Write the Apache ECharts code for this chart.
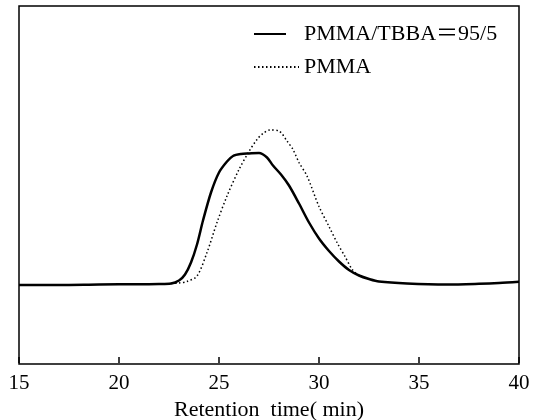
<!DOCTYPE html>
<html>
<head>
<meta charset="utf-8">
<script src="https://cdn.jsdelivr.net/npm/echarts@6/dist/echarts.min.js"></script>
<style>
html,body{margin:0;padding:0;background:#fff;}
#main{width:537px;height:420px;}
</style>
</head>
<body>
<div id="main"></div>
<script>
/* retention time (min) and detector signal (arbitrary units) */
var solidName = 'PMMA/TBBA＝95/5';
var dotName = 'PMMA';
var solidTime = [15, 17, 19, 21, 22, 22.6, 23.0, 23.3, 23.6, 23.9, 24.2, 24.6, 25.0, 25.4, 25.7, 26.1, 26.5, 27.0, 27.4, 27.7, 28.1, 28.5, 29.0, 29.5, 30.0, 30.5, 31.0, 31.5, 32.0, 32.5, 33.0, 34.4, 36.4, 38.0, 39.0, 40];
var solidSignal = [78, 78, 78.5, 78.8, 79, 79.5, 82.5, 88.5, 100.5, 118.5, 142.5, 170.5, 190.5, 201.5, 207, 209, 209.5, 210, 205.5, 197.5, 188.5, 177.5, 159.5, 140.5, 124.5, 112, 101.5, 93, 87.5, 84, 81.5, 79.5, 78.5, 79.2, 80, 81.3];
var dotTime = [22.6, 23.0, 23.4, 23.9, 24.4, 24.9, 25.4, 26.0, 26.5, 26.9, 27.2, 27.55, 28.0, 28.4, 28.7, 29.0, 29.4, 30.0, 30.5, 30.9, 31.3, 31.7, 32.1];
var dotSignal = [79.5, 80, 81.5, 87, 110.5, 140.5, 167, 193.5, 211.5, 223.5, 229.5, 233, 232, 222, 213.5, 200.5, 187, 156.5, 136.5, 120.5, 106.5, 92.5, 86.5];

function pairs(xs, ys) {
	return xs.map(function(x, i) { return [x, ys[i]]; });
}

var font = '"Liberation Serif", "Times New Roman", "Noto Sans CJK SC", serif';
var chart = echarts.init(document.getElementById('main'));
chart.setOption({
	animation: false,
	grid: {left: 19, right: 18, top: 6, bottom: 56, outerBoundsMode: 'none', containLabel: false,
		show: true, borderColor: '#000', borderWidth: 1.5},
	legend: [{
		data: [solidName], left: 248, top: 18, itemWidth: 32, itemHeight: 10,
		itemStyle: {opacity: 0},
		textStyle: {fontFamily: font, fontSize: 22, color: '#000', padding: [0, 0, 0, 13]}
	}, {
		data: [dotName], left: 248, top: 51, itemWidth: 45, itemHeight: 10,
		itemStyle: {opacity: 0},
		textStyle: {fontFamily: font, fontSize: 22, color: '#000'}
	}],
	xAxis: {
		type: 'value', min: 15, max: 40, interval: 5,
		name: 'Retention  time( min)', nameLocation: 'middle', nameGap: 32,
		nameTextStyle: {fontFamily: font, fontSize: 22, color: '#000'},
		axisLine: {show: false, onZero: true},
		axisTick: {show: true, inside: true, length: 6, lineStyle: {color: '#000', width: 1.5}},
		axisLabel: {margin: 9, fontFamily: font, fontSize: 21, color: '#000'},
		splitLine: {show: false}
	},
	yAxis: {type: 'value', min: -1, max: 357, show: false},
	series: [{
		name: solidName, type: 'line', data: pairs(solidTime, solidSignal),
		showSymbol: false, symbol: 'none', smooth: 0.3,
		lineStyle: {color: '#000', width: 2.5}, itemStyle: {color: '#000'}
	}, {
		name: dotName, type: 'line', data: pairs(dotTime, dotSignal),
		showSymbol: false, symbol: 'none', smooth: 0.3,
		lineStyle: {color: '#000', width: 1.5, type: [1.5, 2.5]}, itemStyle: {color: '#000'}
	}]
});
</script>
</body>
</html>
